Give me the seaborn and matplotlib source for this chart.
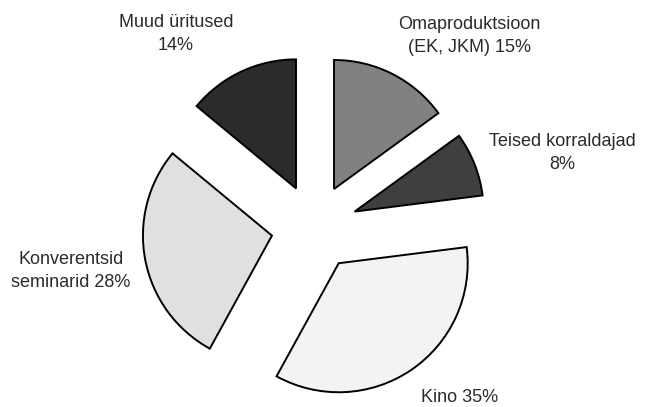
import matplotlib
matplotlib.use("Agg")
import matplotlib.pyplot as plt
import seaborn as sns

sns.set_theme(style="white")
plt.rcParams['font.family'] = ['Liberation Sans', 'DejaVu Sans']

categories = ["Omaproduktsioon\n(EK, JKM)", "Teised korraldajad", "Kino", "Konverentsid\nseminarid", "Muud üritused"]
values = [15, 8, 35, 28, 14]
label_text = ["Omaproduktsioon\n(EK, JKM) 15%", "Teised korraldajad\n8%", "Kino 35%",
              "Konverentsid\nseminarid 28%", "Muud üritused\n14%"]
colors = ["#818181", "#3f3f3f", "#f3f3f3", "#e0e0e0", "#2b2b2b"]

W, H = 645, 407
fig = plt.figure(figsize=(W / 100, H / 100), dpi=100)
ax = fig.add_axes([0, 0, 1, 1])

R = 129.0
cx, cy = 314.4, 227.5
ax.pie(values, colors=colors, startangle=90, counterclock=False,
       explode=[0.335] * len(values), radius=1.0,
       wedgeprops=dict(edgecolor="black", linewidth=1.4))

ax.set_aspect("equal")
ax.set_xlim(-cx / R, (W - cx) / R)
ax.set_ylim(-(H - cy) / R, cy / R)
ax.axis("off")

# label positions in pixel coords (from top-left)
label_pos = [(469, 36), (562, 153), (460, 398), (71, 271), (176, 34)]
for txt, (px, py) in zip(label_text, label_pos):
    ax.text(px / W, 1 - py / H, txt, transform=ax.transAxes, ha="center", va="center",
            fontsize=13, color="#2a2a2a", linespacing=1.45, multialignment="center")

fig.savefig("out.png", dpi=100, facecolor="white")
